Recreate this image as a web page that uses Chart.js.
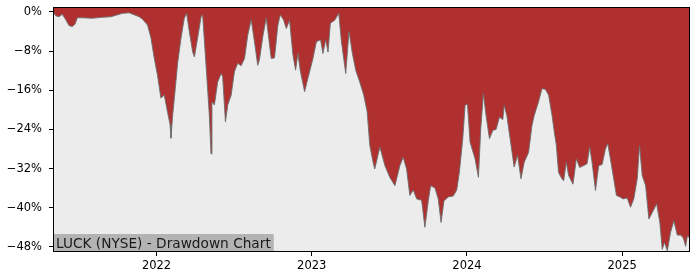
<!DOCTYPE html>
<html>
<head>
<meta charset="utf-8">
<script src="https://cdn.jsdelivr.net/npm/chart.js@4/dist/chart.umd.min.js"></script>
<style>
  html, body { margin: 0; padding: 0; background: #fff; }
  canvas { display: block; }
</style>
</head>
<body>
<canvas id="dd" width="700" height="280"></canvas>
<script>
// dates as decimal years, values as drawdown in percent
const years = [
  2021.333, 2021.350, 2021.371, 2021.393, 2021.415, 2021.436, 2021.457, 2021.475, 2021.490, 2021.522,
  2021.587, 2021.651, 2021.705, 2021.738, 2021.780, 2021.824, 2021.856, 2021.888, 2021.910, 2021.942,
  2021.964, 2021.985, 2022.006, 2022.028, 2022.050, 2022.071, 2022.087, 2022.093, 2022.103, 2022.121,
  2022.136, 2022.158, 2022.179, 2022.194, 2022.211, 2022.233, 2022.244, 2022.265, 2022.287, 2022.297,
  2022.319, 2022.340, 2022.351, 2022.357, 2022.373, 2022.394, 2022.416, 2022.426, 2022.444, 2022.459,
  2022.481, 2022.502, 2022.523, 2022.545, 2022.567, 2022.588, 2022.610, 2022.631, 2022.652, 2022.663,
  2022.685, 2022.707, 2022.724, 2022.739, 2022.760, 2022.782, 2022.797, 2022.818, 2022.836, 2022.857,
  2022.879, 2022.896, 2022.911, 2022.926, 2022.954, 2022.975, 2023.008, 2023.030, 2023.057, 2023.072,
  2023.090, 2023.105, 2023.120, 2023.148, 2023.174, 2023.191, 2023.219, 2023.240, 2023.262, 2023.284,
  2023.309, 2023.335, 2023.357, 2023.374, 2023.395, 2023.406, 2023.439, 2023.471, 2023.503, 2023.536,
  2023.568, 2023.589, 2023.611, 2023.632, 2023.654, 2023.676, 2023.708, 2023.729, 2023.751, 2023.766,
  2023.794, 2023.815, 2023.833, 2023.852, 2023.880, 2023.912, 2023.934, 2023.951, 2023.973, 2023.988,
  2024.003, 2024.020, 2024.052, 2024.074, 2024.089, 2024.106, 2024.123, 2024.145, 2024.167, 2024.188,
  2024.209, 2024.231, 2024.240, 2024.257, 2024.278, 2024.304, 2024.326, 2024.348, 2024.369, 2024.397,
  2024.419, 2024.433, 2024.461, 2024.483, 2024.505, 2024.526, 2024.548, 2024.563, 2024.576, 2024.590,
  2024.612, 2024.623, 2024.640, 2024.655, 2024.683, 2024.705, 2024.726, 2024.752, 2024.774, 2024.791,
  2024.806, 2024.828, 2024.849, 2024.871, 2024.892, 2024.907, 2024.924, 2024.942, 2024.963, 2024.985,
  2025.006, 2025.032, 2025.054, 2025.075, 2025.097, 2025.112, 2025.129, 2025.151, 2025.172, 2025.194,
  2025.222, 2025.243, 2025.258, 2025.273, 2025.291, 2025.312, 2025.333, 2025.355, 2025.377, 2025.394,
  2025.409, 2025.420, 2025.437
];
const drawdown = [
  0, -0.8, -1.0, -0.5, -1.6, -2.8, -3.0, -2.5, -1.2, -1.2,
  -1.3, -1.1, -1.0, -0.7, -0.3, -0.2, -0.6, -1.0, -1.5, -2.7,
  -5.3, -9.4, -12.9, -17.6, -17.0, -20.5, -23.0, -25.8, -21.5, -15.6,
  -10.5, -5.3, -1.3, -0.3, -4.0, -8.2, -9.2, -5.3, -1.0, -0.6,
  -10.9, -21.0, -29.0, -18.4, -19.0, -14.3, -12.6, -13.2, -22.5, -19.0,
  -17.0, -12.2, -10.5, -11.0, -9.5, -4.7, -1.6, -6.1, -10.9, -9.8,
  -5.0, -1.2, -5.7, -9.5, -9.4, -2.7, -0.6, -1.6, -3.4, -1.7,
  -8.8, -11.9, -8.5, -12.0, -16.3, -13.6, -9.5, -6.1, -5.7, -8.5,
  -5.7, -8.2, -2.3, -1.7, -0.3, -6.0, -12.6, -4.0, -8.5, -12.0,
  -14.3, -17.0, -20.4, -27.3, -30.7, -32.1, -27.6, -31.4, -33.8, -35.5,
  -31.4, -29.7, -32.1, -37.5, -36.4, -38.2, -38.5, -44.0, -38.6, -35.5,
  -36.0, -38.2, -43.0, -38.6, -37.8, -37.6, -36.4, -32.8, -25.9, -19.1,
  -18.8, -26.6, -30.0, -33.8, -23.8, -16.7, -21.2, -25.9, -24.2, -24.0,
  -21.5, -22.0, -19.1, -21.2, -25.9, -31.7, -29.3, -34.1, -30.7, -28.7,
  -23.2, -21.2, -18.4, -15.7, -15.8, -17.0, -21.1, -24.6, -27.3, -32.8,
  -34.1, -34.5, -30.7, -33.4, -35.2, -30.0, -31.8, -31.4, -31.0, -27.6,
  -30.7, -36.5, -31.4, -31.2, -28.0, -26.9, -30.0, -33.4, -37.5, -37.8,
  -38.2, -38.0, -39.9, -38.2, -34.1, -27.3, -33.4, -35.5, -42.3, -41.0,
  -39.2, -43.1, -48.5, -47.1, -48.8, -45.0, -42.7, -45.6, -45.6, -46.2,
  -47.9, -45.8, -46.2
];
const yearTicks = [2022, 2023, 2024, 2025];
const pctTicks = [-48, -40, -32, -24, -16, -8, 0];
const chartTitle = 'LUCK (NYSE) - Drawdown Chart';

const tickFont = { family: 'DejaVu Sans', size: 11.5 };

// light grey plot face, black frame and the caption box in the lower left
const framePlugin = {
  id: 'frame',
  beforeDraw(chart) {
    const { ctx, chartArea: a } = chart;
    ctx.save();
    ctx.fillStyle = '#ececec';
    ctx.fillRect(a.left, a.top, a.right - a.left, a.bottom - a.top);
    ctx.restore();
  },
  afterDraw(chart) {
    const { ctx, chartArea: a } = chart;
    ctx.save();
    ctx.font = '13.7px "DejaVu Sans"';
    const w = ctx.measureText(chartTitle).width;
    ctx.fillStyle = '#b3b3b3';
    ctx.fillRect(a.left, a.bottom - 18, w + 6, 18);
    ctx.fillStyle = '#1a1a1a';
    ctx.textBaseline = 'alphabetic';
    ctx.fillText(chartTitle, a.left + 3, a.bottom - 4.5);
    ctx.strokeStyle = '#000';
    ctx.lineWidth = 1;
    ctx.strokeRect(Math.round(a.left) + 0.5, Math.round(a.top) + 0.5,
      Math.round(a.right - a.left) - 1, Math.round(a.bottom - a.top) - 1);
    ctx.restore();
  }
};

new Chart(document.getElementById('dd'), {
  type: 'line',
  data: {
    datasets: [{
      data: years.map((x, i) => ({ x, y: drawdown[i] })),
      borderColor: 'rgba(110,110,110,0.9)',
      borderWidth: 1,
      backgroundColor: '#b03030',
      fill: 'end',
      pointRadius: 0,
      tension: 0
    }]
  },
  options: {
    responsive: false,
    animation: false,
    events: [],
    layout: { padding: { left: 0, top: 0, right: 10, bottom: 0 } },
    plugins: { legend: { display: false }, tooltip: { enabled: false } },
    scales: {
      x: {
        type: 'linear',
        min: years[0],
        max: years[years.length - 1],
        afterBuildTicks(s) { s.ticks = yearTicks.map(v => ({ value: v })); },
        afterFit(s) { s.height = 28; s.paddingLeft = 0; s.paddingRight = 0; },
        grid: { drawOnChartArea: false, tickLength: 4, color: '#000' },
        border: { display: false },
        ticks: {
          font: tickFont, color: '#000', padding: 3, maxRotation: 0,
          callback: v => String(v)
        }
      },
      y: {
        min: -49.05,
        max: 1.0,
        afterBuildTicks(s) { s.ticks = pctTicks.map(v => ({ value: v })); },
        afterFit(s) { s.width = 53; s.paddingTop = 7; s.paddingBottom = 0; },
        grid: { drawOnChartArea: false, tickLength: 4, color: '#000' },
        border: { display: false },
        ticks: {
          font: tickFont, color: '#000', padding: 7,
          callback: v => (v === 0 ? '0%' : '\u2212' + Math.abs(v) + '%')
        }
      }
    }
  },
  plugins: [framePlugin]
});
</script>
</body>
</html>
